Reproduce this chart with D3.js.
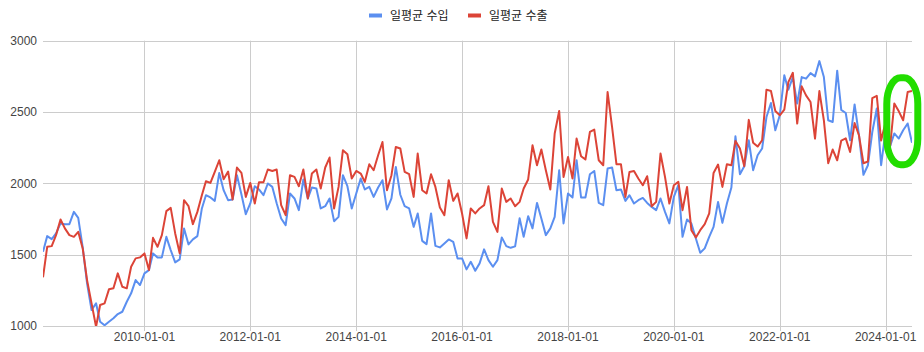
<!DOCTYPE html>
<html>
<head>
<meta charset="utf-8">
<script src="https://cdnjs.cloudflare.com/ajax/libs/d3/7.8.5/d3.min.js"></script>
<style>
  body { margin: 0; background: #fff; }
  text { font-family: Arial, "Liberation Sans", "Noto Sans CJK KR", sans-serif; }
</style>
</head>
<body>
<div id="chart"></div>
<script>

//config var and svg size
var WD = 924, HT = 352
var margin = { left: 43, right: 12, top: 41, bottom: 26 }

//data : monthly values, first month 2008-02
var firstMonth = "2008-02-01";
var seriesNames = ["일평균 수입", "일평균 수출"];
var seriesColors = ["#5b8ff0", "#dc4437"];

var imports = [
  1520, 1630, 1609, 1649, 1719, 1714, 1714, 1800, 1758, 1551, 1299, 1112,
  1159, 1030, 1005, 1030, 1054, 1084, 1100, 1170, 1229, 1322, 1287, 1369,
  1392, 1509, 1481, 1481, 1625, 1532, 1446, 1467, 1684, 1572, 1607, 1630,
  1824, 1917, 1901, 1877, 2073, 1952, 1882, 1887, 2057, 1922, 1784, 1859,
  1980, 1957, 1917, 1999, 1975, 1860, 1754, 1707, 1929, 1894, 1812, 2027,
  1894, 1971, 1964, 1824, 1840, 1894, 1735, 1765, 2057, 1980, 1824, 1929,
  2034, 1957, 1975, 1905, 1971, 2022, 1817, 1894, 2115, 1920, 1840, 1824,
  1695, 1789, 1597, 1574, 1789, 1562, 1551, 1579, 1607, 1590, 1474, 1474,
  1397, 1450, 1387, 1439, 1537, 1462, 1415, 1462, 1621, 1560, 1548, 1558,
  1755, 1625, 1770, 1684, 1863, 1754, 1637, 1684, 1765, 2092, 1719, 1929,
  1901, 2162, 1901, 1901, 2064, 2087, 1863, 1847, 2104, 2111, 1952, 1957,
  1877, 1917, 1859, 1882, 1898, 1863, 1835, 1812, 1894, 1800, 1719, 1905,
  1987, 1625, 1747, 1719, 1614, 1513, 1544, 1625, 1695, 1870, 1723, 1859,
  1971, 2330, 2064, 2120, 2302, 2092, 2197, 2244, 2465, 2563, 2372, 2477,
  2757, 2657, 2745, 2559, 2745, 2734, 2773, 2750, 2857, 2745, 2442, 2430,
  2790, 2515, 2493, 2302, 2553, 2340, 2060, 2127, 2360, 2525, 2127, 2372,
  2260, 2350, 2314, 2372, 2420, 2285
];

var exports = [
  1341, 1555, 1560, 1637, 1747, 1684, 1637, 1625, 1660, 1544, 1322, 1159,
   995, 1147, 1159, 1257, 1264, 1369, 1275, 1264, 1415, 1474, 1481, 1509,
  1392, 1618, 1555, 1637, 1805, 1828, 1649, 1509, 1882, 1840, 1714, 1800,
  1917, 2015, 2003, 2080, 2162, 2029, 2083, 1887, 2111, 2073, 1905, 2003,
  1859, 2008, 2008, 2097, 2087, 2097, 1847, 1777, 2057, 2045, 1980, 2097,
  1894, 2069, 2097, 1964, 2111, 2181, 1824, 1975, 2232, 2204, 2034, 2087,
  2069, 2010, 2134, 2092, 2197, 2290, 1952, 2057, 2255, 2244, 2080, 2064,
  1905, 2209, 1952, 1929, 2064, 1975, 1831, 1777, 2022, 1877, 1929, 1789,
  1614, 1824, 1789, 1824, 1847, 1980, 1730, 1660, 1964, 1870, 1894, 1840,
  1870, 1964, 2027, 2267, 2127, 2237, 2092, 1957, 2349, 2507, 2045, 2185,
  2034, 2314, 2190, 2167, 2360, 2377, 2162, 2127, 2640, 2395, 2134, 2134,
  1905, 2080, 2087, 2034, 1987, 2050, 1840, 1870, 2209, 2045, 1859, 1987,
  2010, 1812, 1975, 1672, 1621, 1672, 1714, 1789, 2073, 2132, 1975, 2134,
  2127, 2297, 2244, 2120, 2445, 2285, 2258, 2302, 2657, 2647, 2507, 2477,
  2517, 2710, 2775, 2419, 2680, 2617, 2570, 2314, 2647, 2442, 2141, 2237,
  2162, 2300, 2315, 2220, 2423, 2337, 2141, 2153, 2598, 2613, 2300, 2430,
  2260, 2560, 2505, 2442, 2640, 2647
];

var xTickLabels = ["2010-01-01", "2012-01-01", "2014-01-01", "2016-01-01",
                   "2018-01-01", "2020-01-01", "2022-01-01", "2024-01-01"];
var yTicks = [1000, 1500, 2000, 2500, 3000];

// highlight ring drawn on the chart (date range / value range)
var ringDates = ["2024-01-09", "2024-08-10"];
var ringValues = [2130, 2740];

var parseDate = d3.timeParse("%Y-%m-%d");
var start = parseDate(firstMonth);
var months = imports.map(function(d, i) { return d3.timeMonth.offset(start, i); });

//scales
var x = d3.scaleTime()
    .domain(d3.extent(months))
    .range([margin.left, WD - margin.right]);

var y = d3.scaleLinear()
    .domain([1000, 3000])
    .range([HT - margin.bottom, margin.top - 0.3]);

//svg
var svg = d3.select("#chart")
  .append("svg")
    .attr("width", WD)
    .attr("height", HT);

svg.append("rect")
    .attr("width", WD).attr("height", HT)
    .attr("fill", "#fff");

svg.append("clipPath").attr("id", "plot-clip")
  .append("rect")
    .attr("x", margin.left)
    .attr("y", margin.top - 2)
    .attr("width", WD - margin.left - margin.right)
    .attr("height", HT - margin.top - margin.bottom + 2);

//grid
var tickDates = xTickLabels.map(parseDate);

svg.append("g").attr("class", "vgrid")
  .selectAll("line")
  .data(tickDates)
  .enter().append("line")
    .attr("x1", function(d) { return Math.round(x(d)) + 0.5; })
    .attr("x2", function(d) { return Math.round(x(d)) + 0.5; })
    .attr("y1", y(3000))
    .attr("y2", y(1000) + 5)
    .attr("stroke", "#cccccc");

svg.append("g").attr("class", "hgrid")
  .selectAll("line")
  .data(yTicks)
  .enter().append("line")
    .attr("x1", margin.left)
    .attr("x2", WD - margin.right)
    .attr("y1", function(d) { return Math.round(y(d)) + 0.5; })
    .attr("y2", function(d) { return Math.round(y(d)) + 0.5; })
    .attr("stroke", "#cccccc");

//axis labels
svg.append("g")
  .selectAll("text")
  .data(yTicks)
  .enter().append("text")
    .attr("x", 37)
    .attr("y", function(d) { return y(d); })
    .attr("dy", "0.35em")
    .attr("text-anchor", "end")
    .attr("font-size", 12)
    .attr("fill", "#444")
    .text(function(d) { return d; });

svg.append("g")
  .selectAll("text")
  .data(tickDates)
  .enter().append("text")
    .attr("x", function(d) { return x(d); })
    .attr("y", 341)
    .attr("text-anchor", "middle")
    .attr("font-size", 12)
    .attr("fill", "#444")
    .text(function(d, i) { return xTickLabels[i]; });

//lines
var line = d3.line()
    .x(function(d, i) { return x(months[i]); })
    .y(function(d) { return y(d); });

var lines = svg.append("g").attr("clip-path", "url(#plot-clip)");

[imports, exports].forEach(function(series, k) {
  lines.append("path")
    .datum(series)
    .attr("d", line)
    .attr("fill", "none")
    .attr("stroke", seriesColors[k])
    .attr("stroke-width", 2)
    .attr("stroke-linejoin", "round");
});

//legend
var legendX = [369, 468];
var legend = svg.append("g").attr("class", "legend");
seriesNames.forEach(function(name, k) {
  legend.append("rect")
    .attr("x", legendX[k])
    .attr("y", 13.5)
    .attr("width", 13)
    .attr("height", 4)
    .attr("fill", seriesColors[k]);
  legend.append("text")
    .attr("x", legendX[k] + 21)
    .attr("y", 15.5)
    .attr("dy", "0.35em")
    .attr("font-size", 12)
    .attr("fill", "#222")
    .text(name);
});

//green highlight ring
var rx0 = x(parseDate(ringDates[0])), rx1 = x(parseDate(ringDates[1]));
var ry0 = y(ringValues[1]), ry1 = y(ringValues[0]);
svg.append("rect")
    .attr("x", rx0)
    .attr("y", ry0)
    .attr("width", rx1 - rx0)
    .attr("height", ry1 - ry0)
    .attr("rx", 14)
    .attr("ry", 26)
    .attr("fill", "none")
    .attr("stroke", "#22dd00")
    .attr("stroke-width", 7);

</script>
</body>
</html>
